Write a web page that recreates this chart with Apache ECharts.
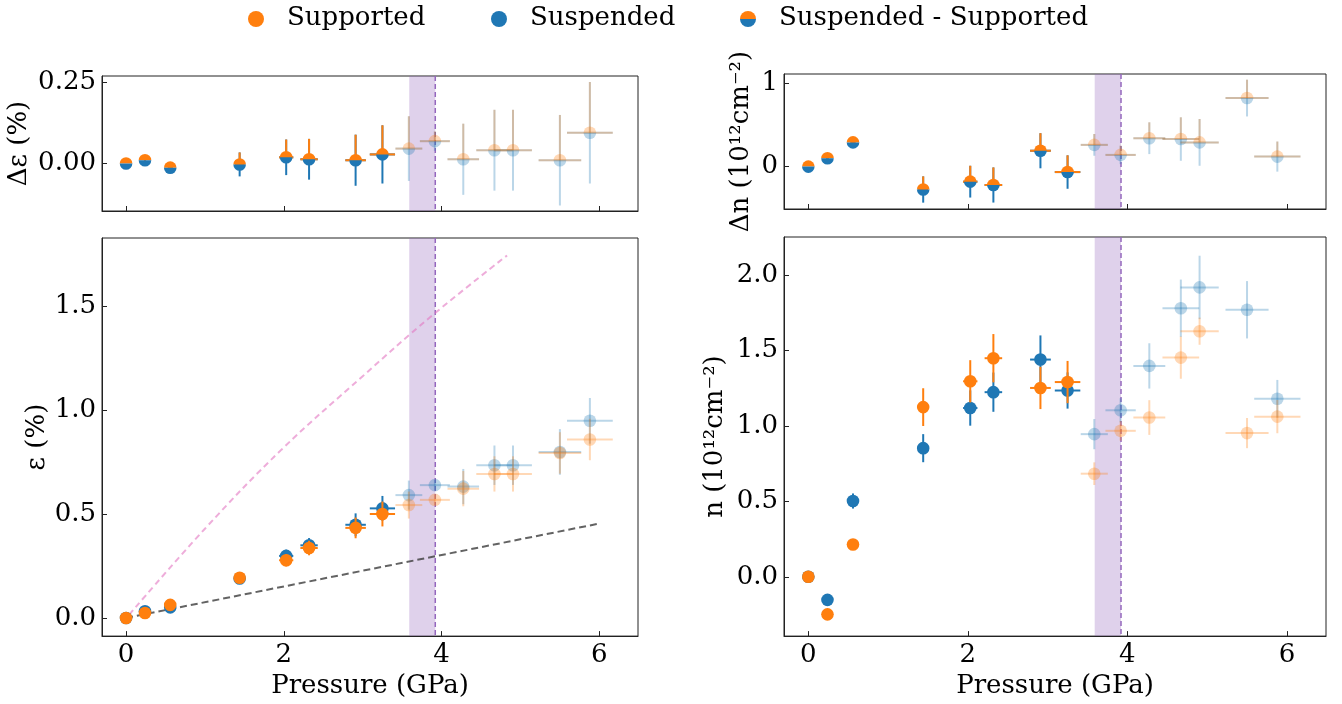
<!DOCTYPE html>
<html>
<head>
<meta charset="utf-8">
<script src="https://cdn.jsdelivr.net/npm/echarts@6/dist/echarts.min.js"></script>
<style>
  html, body { margin: 0; padding: 0; background: #fff; }
  #chart { width: 1342px; height: 704px; }
</style>
</head>
<body>
<div id="chart"></div>
<script>
// pressure points (GPa) and their horizontal error
const pressure = [0, 0.24, 0.56, 1.44, 2.03, 2.32, 2.91, 3.25, 3.585, 3.915, 4.275, 4.67, 4.905, 5.5, 5.88];
const pressureErr = [0, 0.01, 0.03, 0.06, 0.09, 0.11, 0.13, 0.16, 0.17, 0.19, 0.20, 0.23, 0.24, 0.27, 0.29];
// points past the transition are drawn faded
const faded = [0, 0, 0, 0, 0, 0, 0, 0, 1, 1, 1, 1, 1, 1, 1];

// strain (%)
const strainSupported = [0, 0.024, 0.063, 0.194, 0.278, 0.337, 0.434, 0.501, 0.544, 0.569, 0.623, 0.694, 0.694, 0.795, 0.86];
const strainSupportedErr = [0, 0.005, 0.01, 0.015, 0.03, 0.035, 0.05, 0.06, 0.065, 0.025, 0.085, 0.085, 0.085, 0.1, 0.1];
const strainSuspended = [0, 0.032, 0.051, 0.19, 0.299, 0.35, 0.449, 0.528, 0.592, 0.64, 0.633, 0.736, 0.736, 0.80, 0.95];
const strainSuspendedErr = [0, 0.005, 0.01, 0.015, 0.03, 0.035, 0.055, 0.06, 0.07, 0.025, 0.085, 0.095, 0.095, 0.11, 0.11];

// strain difference (suspended - supported)
const strainDiff = [0, 0.01, -0.013, -0.003, 0.019, 0.013, 0.01, 0.028, 0.046, 0.069, 0.013, 0.041, 0.041, 0.01, 0.095];
const strainDiffErr = [0, 0.003, 0.005, 0.037, 0.055, 0.063, 0.079, 0.09, 0.1, 0.03, 0.11, 0.125, 0.125, 0.14, 0.157];

// carrier density (1e12 cm^-2)
const densSupported = [0, -0.249, 0.214, 1.124, 1.295, 1.448, 1.251, 1.290, 0.683, 0.967, 1.055, 1.452, 1.627, 0.952, 1.061];
const densSupportedErr = [0, 0.01, 0.01, 0.125, 0.14, 0.16, 0.14, 0.14, 0.075, 0.065, 0.115, 0.14, 0.09, 0.1, 0.11];
const densSuspended = [0, -0.153, 0.502, 0.852, 1.118, 1.223, 1.439, 1.234, 0.945, 1.103, 1.397, 1.779, 1.917, 1.769, 1.179];
const densSuspendedErr = [0, 0.01, 0.05, 0.093, 0.117, 0.13, 0.16, 0.12, 0.1, 0.08, 0.15, 0.19, 0.21, 0.19, 0.125];

// density difference
const densDiff = [0, 0.1, 0.29, -0.274, -0.18, -0.22, 0.19, -0.065, 0.26, 0.14, 0.34, 0.33, 0.29, 0.82, 0.12];
const densDiffErr = [0, 0.01, 0.02, 0.157, 0.19, 0.21, 0.21, 0.2, 0.13, 0.11, 0.19, 0.26, 0.28, 0.22, 0.18];

// reference lines in the strain panel
const pinkP = [0.04, 1.0, 1.97, 3.0, 3.85, 4.83];
const pinkStrain = [0.016, 0.43, 0.811, 1.165, 1.448, 1.747];
const greyP = [0, 6.0];
const greyStrain = [0, 0.455];

// transition band
const bandStart = 3.59;
const bandEnd = 3.92;

const xTicks = [0, 2, 4, 6];
const strainDiffTicks = [0, 0.25];
const strainTicks = [0, 0.5, 1.0, 1.5];
const densDiffTicks = [0, 1];
const densTicks = [0, 0.5, 1.0, 1.5, 2.0];

const ORANGE = '#ff7f0e';
const BLUE = '#1f77b4';
const FONT = 'DejaVu Serif';
const FADE = 0.3;
const R = 6.3;

function rows(ys, errs) {
  return pressure.map((p, i) => [p, ys[i], pressureErr[i], errs[i], faded[i]]);
}

function ends(api) {
  const x = api.value(0), y = api.value(1), xe = api.value(2), ye = api.value(3);
  return {
    c: api.coord([x, y]),
    l: api.coord([x - xe, y]),
    r: api.coord([x + xe, y]),
    t: api.coord([x, y + ye]),
    b: api.coord([x, y - ye]),
    op: api.value(4) ? FADE : 1
  };
}

function line(a, b, color, op) {
  return { type: 'line', shape: { x1: a[0], y1: a[1], x2: b[0], y2: b[1] },
    style: { stroke: color, lineWidth: 2, opacity: op } };
}

// single coloured point with error bars
function pointRender(color) {
  return function (params, api) {
    const e = ends(api);
    return { type: 'group', children: [
      line(e.l, e.r, color, e.op),
      line(e.b, e.t, color, e.op),
      { type: 'circle', shape: { cx: e.c[0], cy: e.c[1], r: R }, style: { fill: color, opacity: e.op } }
    ] };
  };
}

// half orange / half blue point for the differences
function diffRender(params, api) {
  const e = ends(api);
  return { type: 'group', children: [
    line(e.b, e.t, BLUE, e.op),
    line(e.l, e.r, BLUE, e.op),
    line(e.c, e.t, ORANGE, e.op),
    line(e.l, e.r, ORANGE, e.op),
    { type: 'sector', shape: { cx: e.c[0], cy: e.c[1], r: R, startAngle: Math.PI, endAngle: 2 * Math.PI },
      style: { fill: ORANGE, opacity: e.op } },
    { type: 'sector', shape: { cx: e.c[0], cy: e.c[1], r: R, startAngle: 0, endAngle: Math.PI },
      style: { fill: BLUE, opacity: e.op } }
  ] };
}

function bandRender(params, api) {
  const cs = params.coordSys;
  const a = api.coord([api.value(0), 0])[0];
  const b = api.coord([api.value(1), 0])[0];
  return { type: 'group', children: [
    { type: 'rect', shape: { x: a, y: cs.y, width: b - a, height: cs.height },
      style: { fill: 'rgba(148,103,189,0.3)' } },
    { type: 'line', shape: { x1: b, y1: cs.y, x2: b, y2: cs.y + cs.height },
      style: { stroke: '#9467bd', lineWidth: 1.5, lineDash: [5, 3] } }
  ] };
}

const grids = [
  { left: 102, top: 76, width: 536, height: 135 },
  { left: 102, top: 238, width: 536, height: 404 },
  { left: 784, top: 74, width: 542, height: 135 },
  { left: 784, top: 237, width: 542, height: 404 }
].map(g => Object.assign({ show: true, borderColor: '#222', borderWidth: 1, backgroundColor: 'transparent' }, g));

function xAxis(idx, showLabels) {
  return {
    type: 'value', gridIndex: idx, min: -0.305, max: 6.49,
    axisLine: { show: true, onZero: false, lineStyle: { color: '#222' } },
    axisTick: { show: true, inside: true, length: 5, customValues: xTicks, lineStyle: { color: '#222' } },
    axisLabel: { show: showLabels, customValues: xTicks, margin: 6, color: '#000', fontFamily: FONT, fontSize: 26 },
    splitLine: { show: false },
    name: showLabels ? 'Pressure (GPa)' : '',
    nameLocation: 'middle', nameGap: 30,
    nameTextStyle: { color: '#000', fontFamily: FONT, fontSize: 26 }
  };
}

function yAxis(idx, min, max, ticks, digits, name, gap) {
  return {
    type: 'value', gridIndex: idx, min: min, max: max,
    axisLine: { show: true, onZero: false, lineStyle: { color: '#222' } },
    axisTick: { show: true, inside: true, length: 5, customValues: ticks, lineStyle: { color: '#222' } },
    axisLabel: { customValues: ticks, margin: 6, color: '#000', fontFamily: FONT, fontSize: 26,
      formatter: v => v.toFixed(digits) },
    splitLine: { show: false },
    name: name, nameLocation: 'middle', nameRotate: 90, nameGap: gap,
    nameTextStyle: { color: '#000', fontFamily: FONT, fontSize: 26 }
  };
}

const series = [];
[0, 1, 2, 3].forEach(g => {
  series.push({ type: 'custom', xAxisIndex: g, yAxisIndex: g, z: 1, silent: true,
    data: [[bandStart, bandEnd]], renderItem: bandRender });
});

series.push({ type: 'line', xAxisIndex: 1, yAxisIndex: 1, z: 2, showSymbol: false, silent: true,
  smooth: 0.4, data: pinkP.map((p, i) => [p, pinkStrain[i]]),
  lineStyle: { color: 'rgba(227,119,194,0.6)', width: 2, type: [6, 4] } });
series.push({ type: 'line', xAxisIndex: 1, yAxisIndex: 1, z: 2, showSymbol: false, silent: true,
  data: greyP.map((p, i) => [p, greyStrain[i]]),
  lineStyle: { color: 'rgba(60,60,60,0.8)', width: 2, type: [7, 4] } });

series.push({ name: 'Suspended', type: 'custom', xAxisIndex: 1, yAxisIndex: 1, z: 3,
  data: rows(strainSuspended, strainSuspendedErr), renderItem: pointRender(BLUE) });
series.push({ name: 'Supported', type: 'custom', xAxisIndex: 1, yAxisIndex: 1, z: 3,
  data: rows(strainSupported, strainSupportedErr), renderItem: pointRender(ORANGE) });
series.push({ name: 'Suspended', type: 'custom', xAxisIndex: 3, yAxisIndex: 3, z: 3,
  data: rows(densSuspended, densSuspendedErr), renderItem: pointRender(BLUE) });
series.push({ name: 'Supported', type: 'custom', xAxisIndex: 3, yAxisIndex: 3, z: 3,
  data: rows(densSupported, densSupportedErr), renderItem: pointRender(ORANGE) });
series.push({ name: 'Suspended - Supported', type: 'custom', xAxisIndex: 0, yAxisIndex: 0, z: 3,
  data: rows(strainDiff, strainDiffErr), renderItem: diffRender });
series.push({ name: 'Suspended - Supported', type: 'custom', xAxisIndex: 2, yAxisIndex: 2, z: 3,
  data: rows(densDiff, densDiffErr), renderItem: diffRender });

// legend drawn by hand because of the two-colour marker
const legendY = 19;
const legendFont = { fontSize: 26, fontFamily: FONT, fill: '#000', verticalAlign: 'middle' };
const graphic = [
  { type: 'circle', shape: { cx: 256, cy: legendY, r: 8 }, style: { fill: ORANGE } },
  { type: 'text', x: 287, y: legendY - 1, style: Object.assign({ text: 'Supported' }, legendFont) },
  { type: 'circle', shape: { cx: 499, cy: legendY, r: 8 }, style: { fill: BLUE } },
  { type: 'text', x: 530, y: legendY - 1, style: Object.assign({ text: 'Suspended' }, legendFont) },
  { type: 'sector', shape: { cx: 748, cy: legendY, r: 8, startAngle: Math.PI, endAngle: 2 * Math.PI }, style: { fill: ORANGE } },
  { type: 'sector', shape: { cx: 748, cy: legendY, r: 8, startAngle: 0, endAngle: Math.PI }, style: { fill: BLUE } },
  { type: 'text', x: 779, y: legendY - 1, style: Object.assign({ text: 'Suspended - Supported' }, legendFont) }
];

const chart = echarts.init(document.getElementById('chart'));
chart.setOption({
  animation: false,
  backgroundColor: '#fff',
  grid: grids,
  xAxis: [xAxis(0, false), xAxis(1, true), xAxis(2, false), xAxis(3, true)],
  yAxis: [
    yAxis(0, -0.147, 0.2705, strainDiffTicks, 2, 'Δε (%)', 70),
    yAxis(1, -0.0875, 1.831, strainTicks, 1, 'ε (%)', 52),
    yAxis(2, -0.507, 1.108, densDiffTicks, 0, 'Δn (10¹²cm⁻²)', 30),
    yAxis(3, -0.393, 2.251, densTicks, 1, 'n (10¹²cm⁻²)', 56)
  ],
  graphic: graphic,
  series: series
});
</script>
</body>
</html>
